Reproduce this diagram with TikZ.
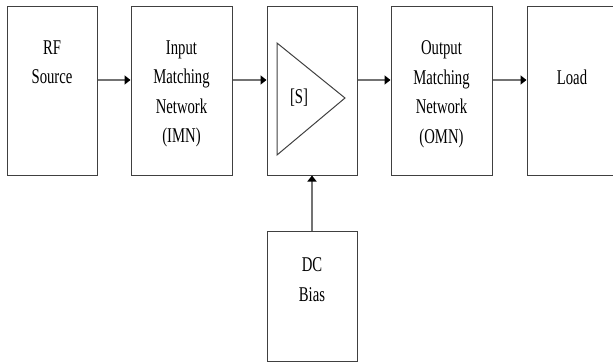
\documentclass[tikz,border=0pt]{standalone}
\usepackage{fontspec}
\setmainfont{Liberation Serif}
\newfontfamily\blockfont[FakeStretch=0.7]{Liberation Serif}
\usetikzlibrary{arrows.meta,positioning}

\tikzset{
	blk/.style={draw=black!75, line width=1pt, inner sep=0pt, minimum width=#1, minimum height=169pt},
	blk/.default=90pt,
	blktext/.style={inner sep=0pt, align=center, anchor=north, font=\blockfont\fontsize{21}{29.5}\selectfont},
	sig/.style={draw=black!55, line width=2pt, -{Triangle[length=6pt,width=9pt,fill=black,color=black]}}
}

\begin{document}
\begin{tikzpicture}[x=1pt, y=-1pt]
			%%%%% START %%%%%
			
			\useasboundingbox (0, 0) rectangle (613, 362);
			\clip (0, 0) rectangle (613, 362);
			
			% blocks along the signal path
			\node[blk] (rf) at (52, 90.5) {};
			\node[blk=101pt] (imn) at (181.5, 90.5) {};
			\node[blk] (amp) at (312, 90.5) {};
			\node[blk=101pt] (omn) at (441.5, 90.5) {};
			\node[blk] (load) at (572, 90.5) {};
			\node[blk, minimum height=130pt] (bias) at (312, 296) {};
			
			% block texts
			\node[blktext, below=35pt of rf.north] (rftext) {RF\\Source};
			\node[blktext, below=35pt of imn.north] (imntext) {Input\\Matching\\Network\\(IMN)};
			\node[blktext, below=35pt of omn.north] (omntext) {Output\\Matching\\Network\\(OMN)};
			\node[blktext, below=64pt of load.north] (loadtext) {Load};
			\node[blktext, below=27pt of bias.north] (biastext) {DC\\Bias};
			
			% amplifier symbol
			\draw[black!75, line width=1pt, shift={(amp.center)}] (-35, -47.5) -- (-35, 64.5) -- (33, 7.5) -- cycle;
			\node[blktext, anchor=center] (sparam) at ([shift={(-13, 7.5)}]amp.center) {[S]};
			
			% connections
			\draw[sig] ([yshift=10.5pt]rf.east) -- ([yshift=10.5pt]imn.west);
			\draw[sig] ([yshift=10.5pt]imn.east) -- ([yshift=10.5pt]amp.west);
			\draw[sig] ([yshift=10.5pt]amp.east) -- ([yshift=10.5pt]omn.west);
			\draw[sig] ([yshift=10.5pt]omn.east) -- ([yshift=10.5pt]load.west);
			\draw[sig] (bias) -- (amp);
			
			%%%%% END %%%%%
\end{tikzpicture}
\end{document}
